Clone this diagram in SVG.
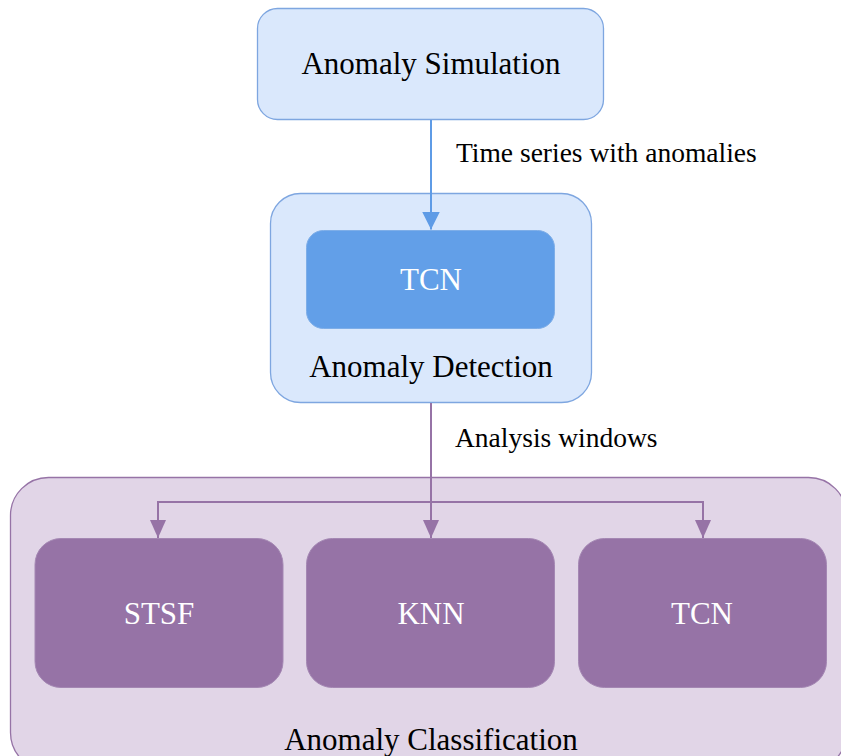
<svg xmlns="http://www.w3.org/2000/svg" width="841" height="756" viewBox="0 0 841 756">
<style>
text{font-family:"Liberation Serif","Times New Roman",serif;text-anchor:middle}
.node{font-size:31px;fill:#000}
.white{font-size:31px;fill:#fff}
.lbl{font-size:27.5px;fill:#000;text-anchor:start}
.blue{fill:#dae8fc;stroke:#7ea6e0;stroke-width:1.3}
.purple{fill:#e1d5e7;stroke:#9673a6;stroke-width:1.3}
.pchild{fill:#9673a6;stroke:#a487b3;stroke-width:1}
.bline{fill:none;stroke:#5e9be6;stroke-width:2}
.pline{fill:none;stroke:#9673a6;stroke-width:2}
</style>
<defs>
<marker id="ab" markerWidth="18" markerHeight="18" viewBox="0 0 18 18" refX="18" refY="9" orient="auto" markerUnits="userSpaceOnUse"><path d="M0,0 L18,9 L0,18 Z" fill="#5e9be6"/></marker>
<marker id="ap" markerWidth="18" markerHeight="16" viewBox="0 0 18 16" refX="18" refY="8" orient="auto" markerUnits="userSpaceOnUse"><path d="M0,0 L18,8 L0,16 Z" fill="#9673a6"/></marker>
</defs>
<g id="classification">
<rect class="purple" x="10.5" y="477.5" width="836" height="293" rx="38"/>
<text class="node" x="431" y="750">Anomaly Classification</text>
</g>
<g id="simulation">
<rect class="blue" x="257.5" y="8.5" width="346" height="111" rx="20"/>
<text class="node" x="431" y="74">Anomaly Simulation</text>
</g>
<g id="detection">
<rect class="blue" x="270.5" y="193.5" width="321" height="209" rx="30"/>
<text class="node" x="431" y="377">Anomaly Detection</text>
</g>
<g id="tcn-detect">
<rect x="306.5" y="230.5" width="248" height="98" rx="17" fill="#629fe8" stroke="#7eaee8" stroke-width="1"/>
<text class="white" x="431" y="290">TCN</text>
</g>
<g id="stsf">
<rect class="pchild" x="35" y="538.5" width="248" height="149" rx="26"/>
<text class="white" x="159" y="624">STSF</text>
</g>
<g id="knn">
<rect class="pchild" x="306.5" y="538.5" width="248" height="149" rx="26"/>
<text class="white" x="431" y="624">KNN</text>
</g>
<g id="tcn-class">
<rect class="pchild" x="578.5" y="538.5" width="248" height="149" rx="26"/>
<text class="white" x="702" y="624">TCN</text>
</g>
<g id="connectors">
<path class="bline" d="M431,120 L431,229.5" marker-end="url(#ab)"/>
<text class="lbl" x="456" y="162">Time series with anomalies</text>
<path class="pline" d="M431,403 L431,538" marker-end="url(#ap)"/>
<path class="pline" d="M431,502 L158,502 L158,538" marker-end="url(#ap)"/>
<path class="pline" d="M431,502 L703,502 L703,538" marker-end="url(#ap)"/>
<text class="lbl" x="455" y="447">Analysis windows</text>
</g>
</svg>
